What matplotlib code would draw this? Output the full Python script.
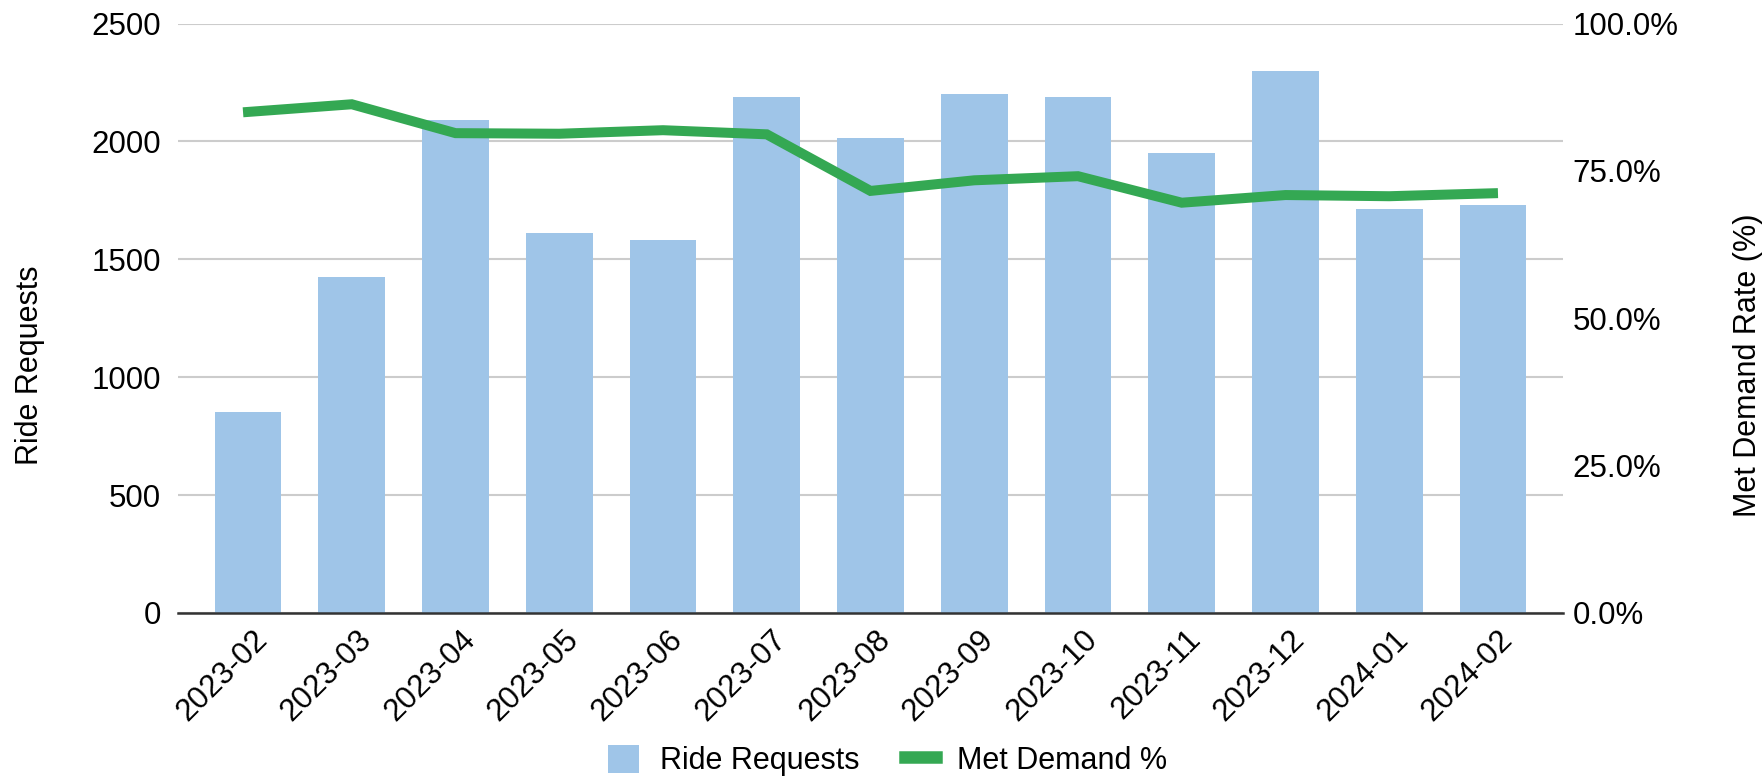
import numpy as np
import matplotlib.pyplot as plt
from matplotlib.ticker import FuncFormatter
from matplotlib.lines import Line2D
from matplotlib.patches import Patch
import matplotlib.transforms as mtransforms

plt.rcParams['font.family'] = ['Liberation Sans', 'DejaVu Sans']

# data
months = ['2023-02', '2023-03', '2023-04', '2023-05', '2023-06', '2023-07', '2023-08',
          '2023-09', '2023-10', '2023-11', '2023-12', '2024-01', '2024-02']
ride_requests = [851, 1426, 2091, 1613, 1582, 2188, 2016, 2200, 2190, 1950, 2299, 1712, 1732]
met_demand = [0.850, 0.863, 0.814, 0.813, 0.819, 0.812, 0.716, 0.734, 0.741, 0.696, 0.709, 0.707, 0.712]

bar_color = '#9fc5e8'
line_color = '#34a853'
fs_tick = 22.5
fs = 22

fig = plt.figure(figsize=(17.65, 7.82), dpi=100)
ax = fig.add_axes([178 / 1765, 1 - 613 / 782, 1385 / 1765, 589.5 / 782])
ax2 = ax.twinx()

x = np.arange(len(months))
ax.bar(x, ride_requests, width=0.643, color=bar_color, zorder=2)
ax2.plot(x, met_demand, color=line_color, linewidth=7.2, solid_joinstyle='miter', zorder=3)

ax.set_xlim(-0.675, len(months) - 1 + 0.675)
ax.set_ylim(0, 2500)
ax2.set_ylim(0, 1)

ax.set_yticks(np.arange(0, 2501, 500))
ax.yaxis.grid(True, color='#cccccc', linewidth=1.5, zorder=0)
ax.set_axisbelow(True)
ax2.set_yticks([0, 0.25, 0.5, 0.75, 1.0])
ax2.yaxis.set_major_formatter(FuncFormatter(lambda v, p: f'{v * 100:.1f}%'))

for a in (ax, ax2):
    for s in a.spines.values():
        s.set_visible(False)
ax.spines['bottom'].set_visible(True)
ax.spines['bottom'].set_color('#333333')
ax.spines['bottom'].set_linewidth(1.8)
ax.spines['bottom'].set_zorder(4)

ax.tick_params(axis='y', length=0, pad=12, labelsize=fs_tick)
ax2.tick_params(axis='y', length=0, pad=7, labelsize=fs_tick)
ax.tick_params(axis='x', length=0, pad=16, labelsize=fs_tick)

ax.set_xticks(x)
ax.set_xticklabels(months, rotation=45, ha='right', va='center', rotation_mode='anchor')
offset = mtransforms.ScaledTranslation(15 / 100, 0, fig.dpi_scale_trans)
for lbl in ax.get_xticklabels():
    lbl.set_transform(lbl.get_transform() + offset)

# axis titles, centred a bit below the plot middle like the reference
fig.text(30 / 1765, 1 - 365 / 782, 'Ride Requests', fontsize=fs, rotation=90,
         ha='center', va='center')
fig.text(1748 / 1765, 1 - 365 / 782, 'Met Demand Rate (%)', fontsize=fs, rotation=90,
         ha='center', va='center')

handles = [Patch(facecolor=bar_color, edgecolor='none', label='Ride Requests'),
           Line2D([0], [0], color=line_color, linewidth=9, label='Met Demand %')]
fig.legend(handles=handles, loc='lower center', bbox_to_anchor=(0.503, -0.028), ncol=2,
           frameon=False, fontsize=fs, handlelength=1.0, handleheight=1.0,
           columnspacing=1.5, handletextpad=0.7)

fig.savefig('out.png', dpi=100)
